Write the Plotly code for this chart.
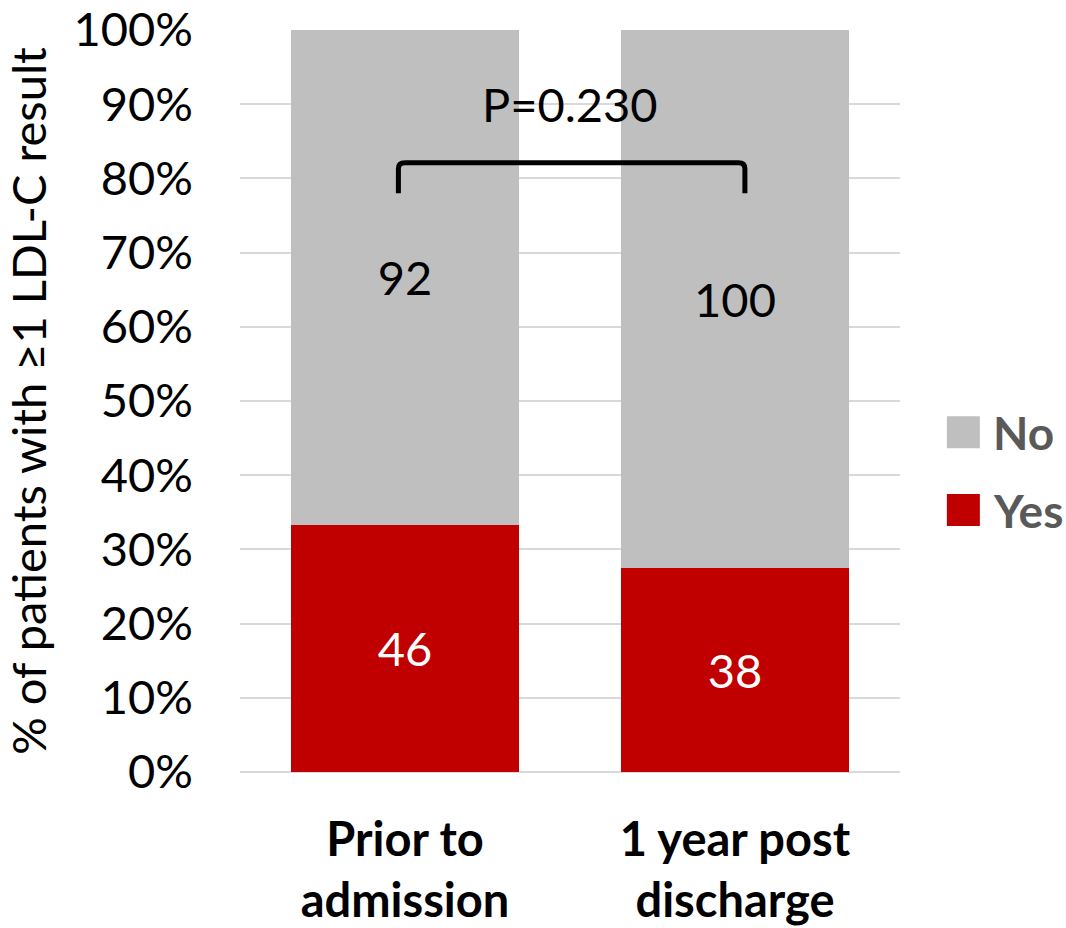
import plotly.graph_objects as go

categories = ["Prior to<br>admission", "1 year post<br>discharge"]
yes_counts = [46, 38]
no_counts = [92, 100]
series_names = ["No", "Yes"]
series_colors = ["#BFBFBF", "#C00000"]
p_label = "P=0.230"
y_title = "% of patients with ≥1 LDL-C result"

FONT = "Lato"
FS = 47

fig = go.Figure()
fig.add_trace(go.Bar(
    x=categories, y=yes_counts, name="Yes",
    marker=dict(color=series_colors[1], line=dict(width=0)),
    text=[str(v) for v in yes_counts], textposition="inside",
    insidetextanchor="middle",
    textfont=dict(color="white", size=FS, family=FONT),
    width=0.69, showlegend=False,
))
fig.add_trace(go.Bar(
    x=categories, y=no_counts, name="No",
    marker=dict(color=series_colors[0], line=dict(width=0)),
    text=[str(v) for v in no_counts], textposition="inside",
    insidetextanchor="middle",
    textfont=dict(color="black", size=FS, family=FONT),
    width=0.69, showlegend=False,
))

fig.update_layout(
    barmode="stack", barnorm="percent",
    width=1066, height=928,
    margin=dict(l=240, r=166, t=30, b=156),
    plot_bgcolor="white", paper_bgcolor="white",
    font=dict(family=FONT, size=FS, color="black"),
    uniformtext=dict(mode="show", minsize=10),
    showlegend=False,
    xaxis=dict(
        showline=False, ticks="", automargin=False,
        tickfont=dict(size=FS, family=FONT, weight="bold", color="black"),
        ticklabelstandoff=36, ticklabeloverflow="allow",
    ),
    yaxis=dict(
        range=[0, 100], dtick=10, ticksuffix="%", automargin=False,
        showgrid=True, gridcolor="#D9D9D9", gridwidth=1.5,
        zeroline=True, zerolinecolor="#D9D9D9", zerolinewidth=1.5,
        tickfont=dict(size=FS, family=FONT),
        title=dict(text=y_title, font=dict(size=FS, family=FONT), standoff=14),
        ticklabelstandoff=46, ticklabeloverflow="allow",
    ),
)

# manual legend (large square swatches like the reference)
legend_y = [0.458, 0.353]
for name, color, yc in zip(series_names, series_colors, legend_y):
    fig.add_shape(
        type="rect", xref="paper", yref="paper",
        x0=1.071, x1=1.121, y0=yc - 0.0216, y1=yc + 0.0216,
        fillcolor=color, line=dict(width=0),
    )
    fig.add_annotation(
        x=1.138, y=yc, xref="paper", yref="paper", text=name,
        xanchor="left", yanchor="middle", showarrow=False,
        font=dict(size=46, family=FONT, color="#595959", weight="bold"),
    )

# significance bracket
fig.add_shape(
    type="path", xref="x", yref="y",
    path="M -0.02 78 L -0.02 81.3 Q -0.02 82.1 0.0 82.1 L 1.01 82.1 Q 1.03 82.1 1.03 81.3 L 1.03 78",
    line=dict(color="black", width=5),
)
fig.add_annotation(
    x=0.5, y=90.0, xref="x", yref="y", text=p_label, showarrow=False,
    font=dict(size=FS, family=FONT, color="black"),
)

fig.write_html(
    "out.html",
    config={"displayModeBar": False},
    post_script="document.body.style.margin='0';document.body.style.overflow='hidden';",
)
